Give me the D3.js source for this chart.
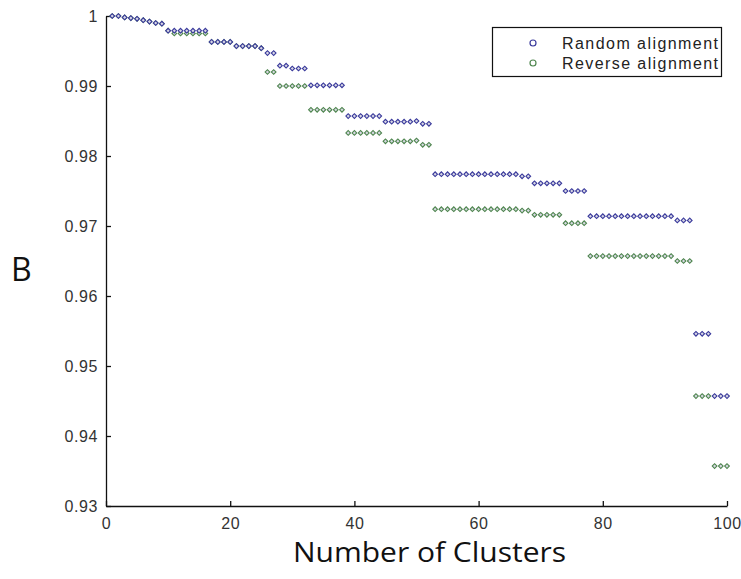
<!DOCTYPE html>
<html>
<head>
<meta charset="utf-8">
<script src="https://cdn.jsdelivr.net/npm/d3@7"></script>
<style>
  body { margin: 0; background: #fff; }
  svg { display: block; }
</style>
</head>
<body>
<svg width="741" height="579"></svg>
<script>
// number of clusters (x)
const clusters = [
  1, 2, 3, 4, 5, 6, 7, 8, 9, 10, 11, 12, 13, 14, 15, 16, 17, 18, 19, 20,
  21, 22, 23, 24, 25, 26, 27, 28, 29, 30, 31, 32, 33, 34, 35, 36, 37, 38, 39, 40,
  41, 42, 43, 44, 45, 46, 47, 48, 49, 50, 51, 52, 53, 54, 55, 56, 57, 58, 59, 60,
  61, 62, 63, 64, 65, 66, 67, 68, 69, 70, 71, 72, 73, 74, 75, 76, 77, 78, 79, 80,
  81, 82, 83, 84, 85, 86, 87, 88, 89, 90, 91, 92, 93, 94, 95, 96, 97, 98, 99, 100
];

const randomAlign = [
  1.0000, 1.0000, 0.9998, 0.9997, 0.9996, 0.9994, 0.9992, 0.9990, 0.9989, 0.9979,
  0.9979, 0.9979, 0.9979, 0.9979, 0.9979, 0.9979, 0.9963, 0.9963, 0.9963, 0.9963,
  0.9957, 0.9957, 0.9957, 0.9957, 0.9954, 0.9947, 0.9947, 0.9929, 0.9929, 0.9925,
  0.9925, 0.9925, 0.9901, 0.9901, 0.9901, 0.9901, 0.9901, 0.9901, 0.9857, 0.9857,
  0.9857, 0.9857, 0.9857, 0.9857, 0.9849, 0.9849, 0.9849, 0.9849, 0.9849, 0.9850,
  0.9846, 0.9846, 0.9774, 0.9774, 0.9774, 0.9774, 0.9774, 0.9774, 0.9774, 0.9774,
  0.9774, 0.9774, 0.9774, 0.9774, 0.9774, 0.9774, 0.9771, 0.9771, 0.9761, 0.9761,
  0.9761, 0.9761, 0.9761, 0.9750, 0.9750, 0.9750, 0.9750, 0.9714, 0.9714, 0.9714,
  0.9714, 0.9714, 0.9714, 0.9714, 0.9714, 0.9714, 0.9714, 0.9714, 0.9714, 0.9714,
  0.9714, 0.9708, 0.9708, 0.9708, 0.9546, 0.9546, 0.9546, 0.9457, 0.9457, 0.9457
];

const reverseAlign = [
  1.0000, 1.0000, 0.9998, 0.9997, 0.9996, 0.9994, 0.9992, 0.9990, 0.9989, 0.9979,
  0.9975, 0.9975, 0.9975, 0.9975, 0.9975, 0.9975, 0.9963, 0.9963, 0.9963, 0.9963,
  0.9957, 0.9957, 0.9957, 0.9957, 0.9954, 0.9920, 0.9920, 0.9900, 0.9900, 0.9900,
  0.9900, 0.9900, 0.9866, 0.9866, 0.9866, 0.9866, 0.9866, 0.9866, 0.9833, 0.9833,
  0.9833, 0.9833, 0.9833, 0.9833, 0.9821, 0.9821, 0.9821, 0.9821, 0.9821, 0.9822,
  0.9816, 0.9816, 0.9724, 0.9724, 0.9724, 0.9724, 0.9724, 0.9724, 0.9724, 0.9724,
  0.9724, 0.9724, 0.9724, 0.9724, 0.9724, 0.9724, 0.9722, 0.9722, 0.9716, 0.9716,
  0.9716, 0.9716, 0.9716, 0.9704, 0.9704, 0.9704, 0.9704, 0.9657, 0.9657, 0.9657,
  0.9657, 0.9657, 0.9657, 0.9657, 0.9657, 0.9657, 0.9657, 0.9657, 0.9657, 0.9657,
  0.9657, 0.9650, 0.9650, 0.9650, 0.9457, 0.9457, 0.9457, 0.9357, 0.9357, 0.9357
];

const xTicks = [0, 20, 40, 60, 80, 100];
const yTicks = [0.93, 0.94, 0.95, 0.96, 0.97, 0.98, 0.99, 1];
const yTickLabels = ["0.93", "0.94", "0.95", "0.96", "0.97", "0.98", "0.99", "1"];
const seriesNames = ["Random alignment", "Reverse alignment"];
const seriesColors = ["#3a3a9c", "#4f864f"];

const plotLeft = 106, plotRight = 727, plotTop = 16, plotBottom = 506;

const svg = d3.select("svg");

const x = d3.scaleLinear().domain([0, 100]).range([plotLeft, plotRight]);
const y = d3.scaleLinear().domain([0.93, 1]).range([plotBottom, plotTop]);

const tickFont = "'Liberation Sans', Arial, sans-serif";

// axes, ticks point inward like matlab
const xAxis = svg.append("g")
  .attr("transform", `translate(0,${plotBottom})`)
  .call(d3.axisBottom(x).tickValues(xTicks).tickSize(-5).tickSizeOuter(0).tickPadding(12));

const yAxis = svg.append("g")
  .attr("transform", `translate(${plotLeft},0)`)
  .call(d3.axisLeft(y).tickValues(yTicks).tickSize(-5).tickSizeOuter(0).tickPadding(8)
    .tickFormat((d, i) => yTickLabels[i]));

[xAxis, yAxis].forEach(a => {
  a.select(".domain").attr("stroke", "#111").attr("stroke-width", 1.3);
  a.selectAll(".tick line").attr("stroke", "#111").attr("stroke-width", 1.3);
  a.selectAll(".tick text")
    .attr("font-family", tickFont)
    .attr("font-size", 16)
    .attr("letter-spacing", 0.6)
    .attr("fill", "#333");
});

// points: small square diamonds
const series = [randomAlign, reverseAlign];
const marker = d3.symbol().type(d3.symbolSquare).size(11);

// reverse first so random sits on top where they overlap
[1, 0].forEach(s => {
  svg.append("g")
    .selectAll("path")
    .data(clusters)
    .join("path")
    .attr("d", marker)
    .attr("transform", (d, i) => `translate(${x(d)},${y(series[s][i])}) rotate(45)`)
    .attr("fill", "#d8d8e4")
    .attr("stroke", seriesColors[s])
    .attr("stroke-width", 1.1);
});

// legend
const legend = svg.append("g");
legend.append("rect")
  .attr("x", 492.5).attr("y", 27.5)
  .attr("width", 229).attr("height", 49)
  .attr("fill", "#fff")
  .attr("stroke", "#111")
  .attr("stroke-width", 1.2);

seriesNames.forEach((name, i) => {
  const ly = 43 + i * 20;
  legend.append("circle")
    .attr("cx", 533).attr("cy", ly).attr("r", 3)
    .attr("fill", "none")
    .attr("stroke", seriesColors[i])
    .attr("stroke-width", 1.2);
  legend.append("text")
    .attr("x", 562).attr("y", ly + 5.5)
    .attr("font-family", tickFont)
    .attr("font-size", 16)
    .attr("fill", "#222")
    .attr("textLength", 156)
    .attr("lengthAdjust", "spacing")
    .text(name);
});

// axis titles
svg.append("text")
  .attr("x", 293).attr("y", 562)
  .attr("font-family", "'Open Sans', sans-serif")
  .attr("font-size", 27)
  .attr("fill", "#111")
  .attr("textLength", 273)
  .attr("lengthAdjust", "spacingAndGlyphs")
  .text("Number of Clusters");

svg.append("text")
  .attr("x", 11).attr("y", 281)
  .attr("font-family", "'Open Sans', sans-serif")
  .attr("font-size", 32)
  .attr("fill", "#111")
  .text("B");
</script>
</body>
</html>
